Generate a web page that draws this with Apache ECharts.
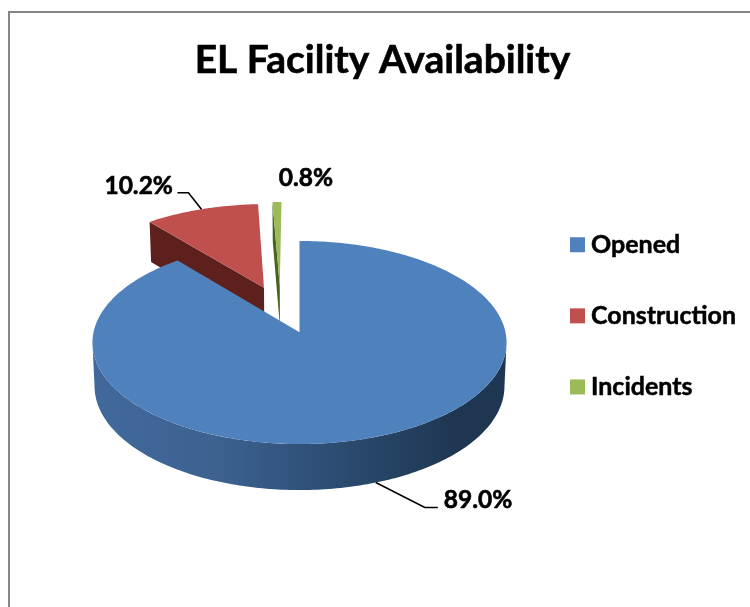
<!DOCTYPE html>
<html>
<head>
<meta charset="utf-8">
<style>html,body{margin:0;padding:0;background:#fff}#c{width:750px;height:607px}</style>
<script src="https://cdn.jsdelivr.net/npm/echarts@6/dist/echarts.min.js"></script>
</head>
<body>
<div id="c"></div>
<script>
var chartTitle = 'EL Facility Availability';
var categories = ['Opened', 'Construction', 'Incidents'];
var shares = [89.0, 10.2, 0.8];
var explodeAmount = [0, 0.498, 0.5];
var explodeDirection = [0, 338.75, 348.4];
var topColors = ['#4f81bd', '#c0504d', '#9bbb59'];
var sideColors = ['#2f4f78', '#5e201d', '#48621f'];
var FONT = 'Lato, Carlito, Calibri, sans-serif';
var HEAVY = 0.6;

// Perspective used to draw a tilted pie
var view = {cx: 299.5, cy: 332.3, a: 206, b: 100.5, p: 0.1005};
var wallRange = [95.8, 264.2];
function rad(d) { return d * Math.PI / 180; }
function project(u, v, low) {
  var w = 1 + view.p * v;
  return [
    view.cx + view.a * u / w * (1 - 0.01 * low),
    view.cy - view.b * v / w + low * (43.3 - 2.7 * v)
  ];
}
function rim(theta, off, low) {
  return project(Math.sin(rad(theta)) + off[0], Math.cos(rad(theta)) + off[1], low);
}
function sliceRange(i) {
  var total = shares.reduce(function (s, x) { return s + x; }, 0), before = 0;
  for (var k = 0; k < i; k++) before += shares[k];
  return [before / total * 360, (before + shares[i]) / total * 360];
}
function arc(t0, t1, off, low) {
  var pts = [], n = Math.max(2, Math.ceil(Math.abs(t1 - t0)));
  for (var k = 0; k <= n; k++) pts.push(rim(t0 + (t1 - t0) * k / n, off, low));
  return pts;
}
var blueSide = new echarts.graphic.LinearGradient(93, 0, 507, 0, [
  {offset: 0, color: '#41699c'}, {offset: 0.3, color: '#3c6290'},
  {offset: 0.5, color: '#31527b'}, {offset: 0.7, color: '#264464'},
  {offset: 0.88, color: '#1f3652'}, {offset: 1, color: '#1f3652'}
], true);

// Leader lines and labels: offsets from the slice's anchor point
var leaderBend = [[[49, 25], [62, 25]], [[-13, -16.5], [-24, -16.5]], null];
var labelOffset = [[68, 18], [-28.5, -23], [29, -24]];
var labelAlign = ['left', 'right', 'center'];

function renderSlice(params, api) {
  var i = params.seriesIndex;
  var r = sliceRange(i);
  var dir = rad(explodeDirection[i]), e = explodeAmount[i];
  var off = [Math.sin(dir) * e, Math.cos(dir) * e];
  var t0 = r[0], t1 = r[1], kids = [];

  // outer wall, front-facing part only
  var w0 = Math.max(t0, wallRange[0]), w1 = Math.min(t1, wallRange[1]);
  if (w1 > w0) {
    var wall = arc(w0, w1, off, 0).concat(arc(w1, w0, off, 1));
    kids.push({type: 'polygon', shape: {points: wall}, style: {fill: i === 0 ? blueSide : sideColors[i]}, silent: true});
  }
  // left cut face for the exploded slices
  if (e > 0) {
    var apexTop = project(off[0], off[1], 0), apexLow = project(off[0], off[1], 1);
    kids.push({type: 'polygon', shape: {points: [apexTop, apexLow, rim(t0, off, 1), rim(t0, off, 0)]},
      style: {fill: sideColors[i]}, silent: true});
  }
  // top face
  var top = [project(off[0], off[1], 0)].concat(arc(t0, t1, off, 0));
  kids.push({type: 'polygon', shape: {points: top}, style: {fill: topColors[i]}, silent: true});

  // label
  var mid = (t0 + t1) / 2;
  var text = api.value(0).toFixed(1) + '%';
  var anchor = rim(mid, off, i === 0 ? 1 : 0);
  if (leaderBend[i]) {
    var b = leaderBend[i];
    kids.push({type: 'polyline', shape: {points: [anchor,
      [anchor[0] + b[0][0], anchor[1] + b[0][1]], [anchor[0] + b[1][0], anchor[1] + b[1][1]]]},
      style: {stroke: '#000', lineWidth: 1.6, fill: null}, silent: true});
  }
  kids.push({type: 'text', x: anchor[0] + labelOffset[i][0], y: anchor[1] + labelOffset[i][1], silent: true,
    style: {text: text, fill: '#000', stroke: '#000', lineWidth: HEAVY, font: 'bold 24.5px ' + FONT,
      textAlign: labelAlign[i], textVerticalAlign: 'middle'}});
  return {type: 'group', children: kids};
}

var chart = echarts.init(document.getElementById('c'), null, {renderer: 'canvas'});
chart.setOption({
  animation: false,
  backgroundColor: '#fff',
  graphic: [{type: 'rect', shape: {x: 9, y: 12, width: 800, height: 700}, silent: true,
    style: {fill: 'none', stroke: '#868686', lineWidth: 2}}],
  title: {text: chartTitle, left: 377.5, top: 36, textAlign: 'center',
    textStyle: {fontFamily: FONT, fontWeight: 'bold', fontSize: 39, color: '#000', textBorderColor: '#000', textBorderWidth: 0.6}},
  legend: {orient: 'vertical', left: 565, top: 227, itemWidth: 15, itemHeight: 15, itemGap: 45.6, icon: 'rect',
    data: categories, selectedMode: false,
    textStyle: {fontFamily: FONT, fontWeight: 'bold', fontSize: 25, color: '#000', textBorderColor: '#000', textBorderWidth: 0.5, padding: [0, 0, 0, 1]}},
  series: categories.map(function (name, i) {
    return {
      type: 'custom', name: name, coordinateSystem: 'none', z: i === 0 ? 3 : 2, clip: false,
      itemStyle: {color: topColors[i]}, renderItem: renderSlice,
      data: [[shares[i]]], encode: {value: 0}
    };
  })
});
</script>
</body>
</html>
